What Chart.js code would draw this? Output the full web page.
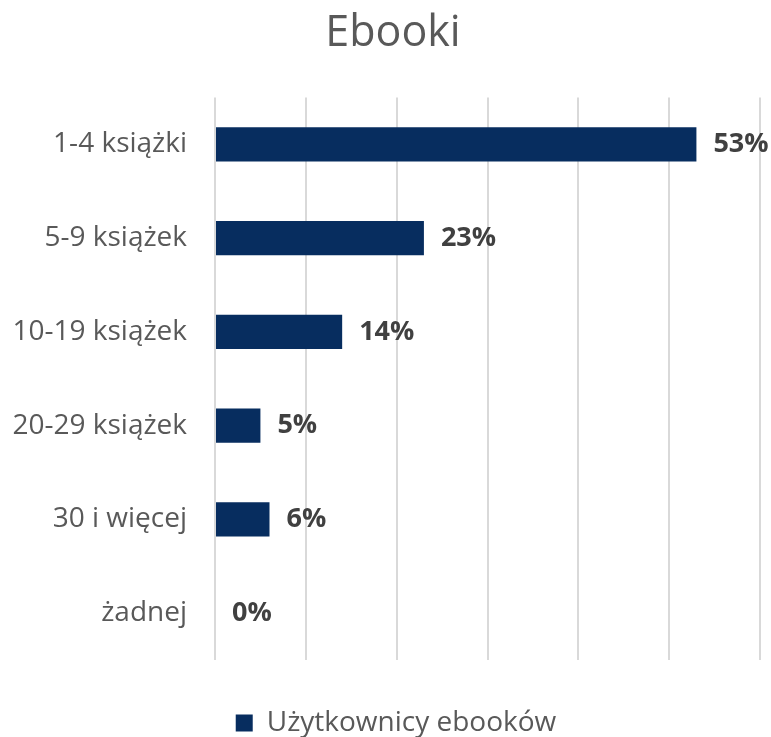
<!DOCTYPE html>
<html>
<head>
<meta charset="utf-8">
<script src="https://cdn.jsdelivr.net/npm/chart.js@4.4.0/dist/chart.umd.min.js"></script>
<style>
  html, body { margin: 0; padding: 0; background: #fff; }
  #wrap { width: 771px; height: 737px; }
</style>
</head>
<body>
<div id="wrap"><canvas id="ebookChart" width="771" height="737"></canvas></div>
<script>
const categories = ['1-4 książki', '5-9 książek', '10-19 książek', '20-29 książek', '30 i więcej', 'żadnej'];
const users = [53, 23, 14, 5, 6, 0];
const seriesName = 'Użytkownicy ebooków';
const chartTitle = 'Ebooki';

const FONT = '"Open Sans", sans-serif';

// draws the bold percentage next to each bar
const barValueLabels = {
    id: 'barValueLabels',
    afterDatasetsDraw(chart) {
        const ctx = chart.ctx;
        const meta = chart.getDatasetMeta(0);
        ctx.save();
        ctx.font = 'bold 27px ' + FONT;
        ctx.fillStyle = '#404040';
        ctx.textAlign = 'left';
        ctx.textBaseline = 'middle';
        meta.data.forEach((bar, i) => {
            ctx.fillText(users[i] + '%', bar.x + 17, bar.y);
        });
        ctx.restore();
    }
};

// tighter legend box, and nudge title/legend a bit right like the original
const layoutTweaks = {
    id: 'layoutTweaks',
    afterInit(chart) {
        const legend = chart.legend;
        const fit = legend.fit;
        legend.fit = function() {
            fit.call(this);
            this.height -= 10;
        };
    },
    afterLayout(chart) {
        if (chart.titleBlock) chart.titleBlock.left += 26;
        if (chart.legend) {
            chart.legend.left += 16;
            chart.legend.right += 16;
        }
    }
};

new Chart(document.getElementById('ebookChart'), {
    type: 'bar',
    data: {
        labels: categories,
        datasets: [{
            label: seriesName,
            data: users,
            backgroundColor: '#072d5f',
            borderWidth: 0,
            barPercentage: 0.73,
            categoryPercentage: 0.5
        }]
    },
    options: {
        indexAxis: 'y',
        responsive: false,
        animation: false,
        layout: { padding: { left: 0, right: 11, top: 0, bottom: 0 } },
        plugins: {
            title: {
                display: true,
                text: chartTitle,
                color: '#595959',
                font: { family: FONT, size: 43, weight: 'normal' },
                padding: { top: 8, bottom: 38 }
            },
            legend: {
                position: 'bottom',
                labels: {
                    color: '#595959',
                    font: { family: FONT, size: 28 },
                    boxWidth: 17,
                    boxHeight: 17,
                    padding: 2
                }
            },
            tooltip: { enabled: false }
        },
        scales: {
            x: {
                min: 0,
                max: 60,
                ticks: { display: false, stepSize: 10 },
                grid: { color: '#d9d9d9', lineWidth: 2, drawTicks: false },
                border: { display: false },
                afterFit(scale) { scale.height = 47; }
            },
            y: {
                ticks: {
                    color: '#595959',
                    font: { family: FONT, size: 28 },
                    padding: 28
                },
                grid: { display: false, drawTicks: false },
                border: { display: false },
                afterFit(scale) { scale.width = 215; }
            }
        }
    },
    plugins: [barValueLabels, layoutTweaks]
});
</script>
</body>
</html>
